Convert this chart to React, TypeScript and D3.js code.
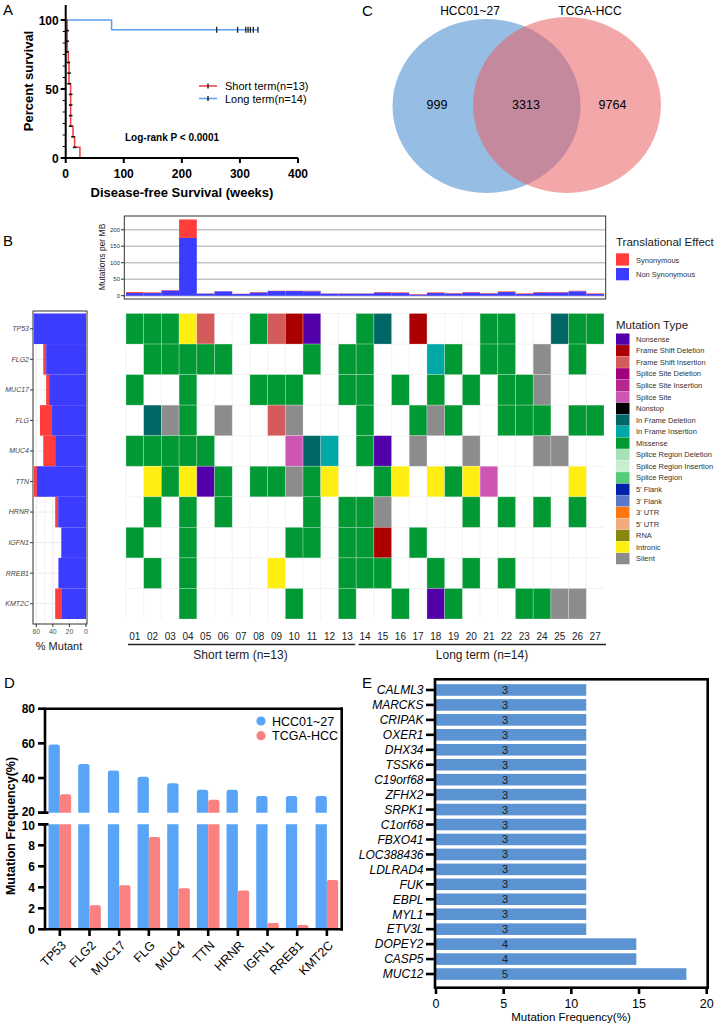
import React from 'react';
import * as d3 from 'd3';

const FONT = '"Liberation Sans", Arial, Helvetica, sans-serif';

// ---------- Panel A : Kaplan-Meier ----------
const shortTimes = [0, 2.5, 4.5, 5.7, 8.5, 12.6, 15.4, 24.5];
const shortSurv = [100, 76.9, 69.2, 53.8, 23.1, 15.4, 7.7, 0];
const longTimes = [0, 79, 332];
const longSurv = [100, 92.9, 92.9];
const longCensor = [260, 296, 310, 314, 318, 323, 331];
const kmXTicks = [0, 100, 200, 300, 400];
const kmYTicks = [0, 50, 100];
const kmLegend = ['Short term(n=13)', 'Long term(n=14)'];

// ---------- Panel C : Venn ----------
const vennLabels = ['HCC01~27', 'TCGA-HCC'];
const vennCounts = [999, 3313, 9764];

// ---------- Panel B : oncoplot ----------
const samples = ['01','02','03','04','05','06','07','08','09','10','11','12','13','14','15','16','17','18','19','20','21','22','23','24','25','26','27'];
const genes = ['TP53','FLG2','MUC17','FLG','MUC4','TTN','HRNR','IGFN1','RREB1','KMT2C'];
const tmbNonSyn = [8,8,15,175,6,13,5,9,14,14,13,6,6,6,9,8,3,8,6,9,6,11,5,9,9,13,5];
const tmbSyn = [3,2,2,56,1,1,1,2,1,1,2,1,1,1,2,2,2,2,2,2,2,2,2,2,2,2,2];
const tmbTicks = [0, 50, 100, 150, 200];
const pctNonSyn = [63, 48.1, 44.5, 41, 37.2, 59.3, 33.6, 29.8, 33.3, 29.8];
const pctSyn = [0, 3.5, 3.6, 14.6, 14.4, 3.5, 3.6, 0, 0, 7.4];
const pctTicks = [60, 40, 20, 0];
// codes: M Missense, Y Intronic, I FS insertion, D FS deletion, N Nonsense,
// d In-frame deletion, i In-frame insertion, S Silent, P Splice site, . none
const mutMatrix = [
  'MMMYI..MIDN..Md.D...MM..dMM',
  '.MMMMM....M.MM...iM.MM.S.M.',
  'M..M...MMM..MM.M.M.M.MMS...',
  '.dSM.S..IS...M..MSM..MMM.MM',
  'MMMMM....Pdi.MN.S..S...SS..',
  '.YMYNM.MMSMY..MY.YMYP....Y.',
  '.M.M.M....M.MMS....M.M.M.M.',
  'M..M.....MM.MMD.M..........',
  '.M.M....Y...MMM..M.M.M.....',
  '...M.....M..M..M.NM...MMSS.',
];
const codeType: Record<string, string> = {
  M: 'Missense', Y: 'Intronic', I: 'Frame Shift Insertion', D: 'Frame Shift Deletion',
  N: 'Nonsense', d: 'In Frame Deletion', i: 'In Frame Insertion', S: 'Silent', P: 'Splice Site',
};
const mutTypes = ['Nonsense','Frame Shift Deletion','Frame Shift Insertion','Splice Site Deletion','Splice Site Insertion','Splice Site','Nonstop','In Frame Deletion','In Frame Insertion','Missense','Splice Region Deletion','Splice Region Insertion','Splice Region',"5' Flank","3' Flank","3' UTR","5' UTR",'RNA','Intronic','Silent'];
const mutColors = ['#5200aa','#aa0000','#d35b5b','#a3007d','#b8268f','#cf55b5','#000000','#006666','#00a8a8','#009933','#a8e0b8','#c8eed2','#55cc77','#0022aa','#5a78cc','#ff7711','#f2aa7a','#888811','#ffee11','#8c8c8c'];
const transTypes = ['Synonymous', 'Non Synonymous'];
const groupNames = ['Short term (n=13)', 'Long term (n=14)'];
const groupSizes = [13, 14];

// ---------- Panel D ----------
const dGenes = ['TP53','FLG2','MUC17','FLG','MUC4','TTN','HRNR','IGFN1','RREB1','KMT2C'];
const dHCC = [59.3, 48.1, 44.4, 40.7, 37.0, 33.3, 33.3, 29.6, 29.6, 29.6];
const dTCGA = [30.7, 2.3, 4.2, 8.8, 3.9, 27.5, 3.7, 0.6, 0.4, 4.7];
const dSeries = ['HCC01~27', 'TCGA-HCC'];
const dUpperTicks = [20, 40, 60, 80];
const dLowerTicks = [0, 2, 4, 6, 8, 10];

// ---------- Panel E ----------
const eGenes = ['CALML3','MARCKS','CRIPAK','OXER1','DHX34','TSSK6','C19orf68','ZFHX2','SRPK1','C1orf68','FBXO41','LOC388436','LDLRAD4','FUK','EBPL','MYL1','ETV3L','DOPEY2','CASP5','MUC12'];
const eCounts = [3,3,3,3,3,3,3,3,3,3,3,3,3,3,3,3,3,4,4,5];
const eFreq = [11.1,11.1,11.1,11.1,11.1,11.1,11.1,11.1,11.1,11.1,11.1,11.1,11.1,11.1,11.1,11.1,11.1,14.8,14.8,18.5];
const eTicks = [0, 5, 10, 15, 20];

const RED = '#ff3d3d';
const BLUE = '#3c3cff';

function PanelA() {
  const x = d3.scaleLinear().domain([0, 400]).range([65.7, 298]);
  const y = d3.scaleLinear().domain([0, 100]).range([158, 20]);
  const line = d3.line<[number, number]>().x(d => x(d[0])).y(d => y(d[1])).curve(d3.curveStepAfter);
  const sPts = shortTimes.map((t, i) => [t, shortSurv[i]] as [number, number]);
  const lPts = longTimes.map((t, i) => [t, longSurv[i]] as [number, number]);
  const stepSize = 100 / 13;
  const marks: { t: number; s: number }[] = [];
  for (let i = 1; i < shortTimes.length; i++) {
    const n = Math.round((shortSurv[i - 1] - shortSurv[i]) / stepSize);
    for (let k = 1; k <= n; k++) {
      const s = shortSurv[i - 1] - k * stepSize;
      if (s > 0.5) marks.push({ t: shortTimes[i], s });
    }
  }
  const minor = d3.range(0, 100.001, 100 / 12);
  const redC = '#f03c3c';
  const blueC = '#5aa0f0';
  return (
    <g>
      <text x={3} y={15} fontSize={15}>A</text>
      {minor.map(v => <line key={'m' + v} x1={x(0) - 3} x2={x(0)} y1={y(v)} y2={y(v)} stroke="#000" strokeWidth={1} />)}
      {kmYTicks.map(v => (
        <g key={'y' + v}>
          <line x1={x(0) - 5} x2={x(0)} y1={y(v)} y2={y(v)} stroke="#000" strokeWidth={2} />
          <text x={x(0) - 7} y={y(v) + 4.5} textAnchor="end" fontSize={12} fontWeight="bold">{v}</text>
        </g>
      ))}
      {kmXTicks.map(v => (
        <g key={'x' + v}>
          <line x1={x(v)} x2={x(v)} y1={158} y2={163} stroke="#000" strokeWidth={2} />
          <text x={x(v)} y={178} textAnchor="middle" fontSize={12} fontWeight="bold">{v}</text>
        </g>
      ))}
      <path d={line(lPts) || ''} fill="none" stroke={blueC} strokeWidth={1.5} />
      <path d={line(sPts) || ''} fill="none" stroke={redC} strokeWidth={1.5} />
      {marks.map((m, i) => <line key={'k' + i} x1={x(m.t) - 1.8} x2={x(m.t) + 1.8} y1={y(m.s)} y2={y(m.s)} stroke="#111" strokeWidth={1.6} />)}
      {longCensor.map(t => <line key={'c' + t} x1={x(t)} x2={x(t)} y1={y(92.9) - 3} y2={y(92.9) + 3} stroke="#222" strokeWidth={1.3} />)}
      <line x1={x(0)} x2={x(0)} y1={5} y2={158} stroke="#000" strokeWidth={2} />
      <line x1={x(0) - 1} x2={x(400)} y1={158} y2={158} stroke="#000" strokeWidth={2} />
      {kmLegend.map((l, i) => (
        <g key={l}>
          <line x1={199} x2={217} y1={86 + i * 12.5} y2={86 + i * 12.5} stroke={i === 0 ? redC : blueC} strokeWidth={1.5} />
          <line x1={208} x2={208} y1={83.5 + i * 12.5} y2={88.5 + i * 12.5} stroke="#111" strokeWidth={1.3} />
          <text x={225} y={90 + i * 12.5} fontSize={11}>{l}</text>
        </g>
      ))}
      <text x={125} y={140.5} fontSize={10} fontWeight="bold">Log-rank P {'<'} 0.0001</text>
      <text transform="translate(33,81) rotate(-90)" textAnchor="middle" fontSize={13} fontWeight="bold">Percent survival</text>
      <text x={182} y={197} textAnchor="middle" fontSize={13} fontWeight="bold">Disease-free Survival (weeks)</text>
    </g>
  );
}

function PanelC() {
  return (
    <g>
      <text x={362} y={16} fontSize={15}>C</text>
      <ellipse cx={486.5} cy={106} rx={94} ry={87} fill="#96bde4" />
      <ellipse cx={567} cy={105} rx={94} ry={88} fill="#eb5f63" fillOpacity={0.55} />
      <text x={470} y={15} textAnchor="middle" fontSize={12}>{vennLabels[0]}</text>
      <text x={590} y={15} textAnchor="middle" fontSize={12}>{vennLabels[1]}</text>
      <text x={437} y={109} textAnchor="middle" fontSize={12.5}>{vennCounts[0]}</text>
      <text x={526} y={109} textAnchor="middle" fontSize={12.5}>{vennCounts[1]}</text>
      <text x={612.5} y={109} textAnchor="middle" fontSize={12.5}>{vennCounts[2]}</text>
    </g>
  );
}

function PanelB() {
  const xCol = d3.scaleBand().domain(samples).range([126, 604]);
  const yRow = d3.scaleBand().domain(genes).range([313.5, 619]);
  const bw = xCol.bandwidth();
  const bh = yRow.bandwidth();
  const yT = d3.scaleLinear().domain([0, 200]).range([295.7, 229.7]);
  const xP = d3.scaleLinear().domain([0, 60]).range([86, 36.3]);
  const colorOf = (c: string) => mutColors[mutTypes.indexOf(codeType[c])];
  const shortEnd = xCol(samples[groupSizes[0] - 1])! + bw;
  return (
    <g>
      <text x={3} y={246} fontSize={15}>B</text>
      {/* TMB bar chart */}
      <rect x={124.3} y={216} width={481.4} height={83} fill="#fff" />
      {tmbTicks.map(t => <line key={'g' + t} x1={124.3} x2={605.7} y1={yT(t)} y2={yT(t)} stroke="#c4c4c4" strokeWidth={1.6} />)}
      {samples.map((s, i) => (
        <g key={'tmb' + s}>
          <rect x={xCol(s)} y={yT(tmbNonSyn[i] + tmbSyn[i])} width={bw} height={yT(tmbNonSyn[i]) - yT(tmbNonSyn[i] + tmbSyn[i])} fill={RED} />
          <rect x={xCol(s)} y={yT(tmbNonSyn[i])} width={bw} height={yT(0) - yT(tmbNonSyn[i])} fill={BLUE} />
        </g>
      ))}
      <rect x={124.3} y={216} width={481.4} height={83} fill="none" stroke="#333" strokeWidth={1} />
      {tmbTicks.map(t => (
        <g key={'t' + t}>
          <line x1={121} x2={124.3} y1={yT(t)} y2={yT(t)} stroke="#333" strokeWidth={1} />
          <text x={120} y={yT(t) + 2.2} textAnchor="end" fontSize={6} fill="#333">{t}</text>
        </g>
      ))}
      <text transform="translate(104.5,257) rotate(-90)" textAnchor="middle" fontSize={8.5} fill="#222">Mutations per MB</text>

      {/* Translational effect legend */}
      <text x={616} y={246} fontSize={11.5} fill="#222">Translational Effect</text>
      {transTypes.map((t, i) => (
        <g key={t}>
          <rect x={616} y={253.3 + i * 14.7} width={13} height={12.3} fill={i === 0 ? RED : BLUE} />
          <text x={636} y={262.5 + i * 14.7} fontSize={7.5} fill="#333">{t}</text>
        </g>
      ))}

      {/* left % mutant */}
      <rect x={33} y={311} width={54} height={313} fill="#fff" />
      {[0, 10, 20, 30, 40, 50, 60].map(v => <line key={'vg' + v} x1={xP(v)} x2={xP(v)} y1={311} y2={624} stroke="#ebebeb" strokeWidth={v % 20 === 0 ? 1 : 0.6} />)}
      {genes.map(g => <line key={'hg' + g} x1={33} x2={87} y1={yRow(g)! + bh / 2} y2={yRow(g)! + bh / 2} stroke="#ebebeb" strokeWidth={1} />)}
      {genes.map((g, i) => (
        <g key={'pb' + g}>
          <rect x={xP(pctNonSyn[i] + pctSyn[i])} y={yRow(g)} width={xP(pctNonSyn[i]) - xP(pctNonSyn[i] + pctSyn[i])} height={bh} fill={RED} />
          <rect x={xP(pctNonSyn[i])} y={yRow(g)} width={xP(0) - xP(pctNonSyn[i])} height={bh} fill={BLUE} />
        </g>
      ))}
      <rect x={33} y={311} width={54} height={313} fill="none" stroke="#333" strokeWidth={1} />
      {genes.map(g => (
        <g key={'gl' + g}>
          <line x1={30} x2={33} y1={yRow(g)! + bh / 2} y2={yRow(g)! + bh / 2} stroke="#333" strokeWidth={1} />
          <text x={29} y={yRow(g)! + bh / 2 + 2.4} textAnchor="end" fontSize={7} fontStyle="italic" fill="#444">{g}</text>
        </g>
      ))}
      {pctTicks.map(v => (
        <g key={'pt' + v}>
          <line x1={xP(v)} x2={xP(v)} y1={624} y2={627} stroke="#333" strokeWidth={1} />
          <text x={xP(v)} y={634} textAnchor="middle" fontSize={7} fill="#555">{v}</text>
        </g>
      ))}
      <text x={59} y={650} textAnchor="middle" fontSize={11} fill="#222">% Mutant</text>

      {/* heatmap */}
      {samples.map(s => <line key={'cv' + s} x1={xCol(s)} x2={xCol(s)} y1={313.5} y2={619} stroke="#f0f0f0" strokeWidth={0.8} />)}
      {genes.map(g => <line key={'rh' + g} x1={126} x2={604} y1={yRow(g)} y2={yRow(g)} stroke="#f0f0f0" strokeWidth={0.8} />)}
      {genes.map((g, r) => samples.map((s, c) => {
        const code = mutMatrix[r][c];
        if (code === '.') return null;
        return <rect key={g + s} x={xCol(s)} y={yRow(g)} width={bw} height={bh} fill={colorOf(code)} stroke="#ffffff" strokeOpacity={0.35} strokeWidth={0.7} />;
      }))}
      {samples.map(s => (
        <text key={'sl' + s} x={xCol(s)! + bw / 2} y={640} textAnchor="middle" fontSize={10} fill="#222">{s}</text>
      ))}
      <line x1={128} x2={shortEnd - 1} y1={644.5} y2={644.5} stroke="#222" strokeWidth={1.5} />
      <line x1={shortEnd + 2.5} x2={606} y1={644.5} y2={644.5} stroke="#222" strokeWidth={1.5} />
      <text x={240.5} y={659} textAnchor="middle" fontSize={12} fill="#222">{groupNames[0]}</text>
      <text x={482} y={659} textAnchor="middle" fontSize={12} fill="#222">{groupNames[1]}</text>

      {/* mutation type legend */}
      <text x={616} y={329} fontSize={11.5} fill="#222">Mutation Type</text>
      {mutTypes.map((t, i) => (
        <g key={t}>
          <rect x={616} y={333.5 + i * 11.55} width={13.5} height={11.3} fill={mutColors[i]} />
          <text x={636} y={341.8 + i * 11.55} fontSize={7.5} fill="#333">{t}</text>
        </g>
      ))}
    </g>
  );
}

function roundTop(x: number, y: number, w: number, h: number, r: number) {
  const rr = Math.min(r, h, w / 2);
  return `M${x},${y + h}V${y + rr}Q${x},${y} ${x + rr},${y}H${x + w - rr}Q${x + w},${y} ${x + w},${y + rr}V${y + h}Z`;
}

function PanelD() {
  const x = d3.scaleBand().domain(dGenes).range([45, 341.7]);
  const upTop = 708.7, upBot = 812.7, loTop = 824.3, loBot = 929.3;
  const yUp = d3.scaleLinear().domain([20, 80]).range([upBot, upTop]);
  const yLo = d3.scaleLinear().domain([0, 10]).range([loBot, loTop]);
  const colors = ['#58a5f7', '#fb8080'];
  const series = [dHCC, dTCGA];
  const bw = 11.3;
  const sw = 2.6;
  return (
    <g>
      <text x={4} y={688} fontSize={15}>D</text>
      {dGenes.map((g, i) => {
        const c = x(g)! + x.bandwidth() / 2;
        return series.map((ser, s) => {
          const v = ser[i];
          const bx = s === 0 ? c - bw : c;
          const out = [];
          const lv = Math.min(v, 10);
          const ly = yLo(lv);
          out.push(<path key={'l' + s} d={v > 10 ? `M${bx},${loBot}V${loTop}H${bx + bw}V${loBot}Z` : roundTop(bx, ly, bw, loBot - ly, 2)} fill={colors[s]} />);
          if (v > 20) {
            const uy = yUp(v);
            out.push(<path key={'u' + s} d={roundTop(bx, uy, bw, upBot - uy, 2.5)} fill={colors[s]} />);
          }
          return <g key={g + s}>{out}</g>;
        });
      })}
      {/* box */}
      <line x1={45} x2={341.7} y1={upTop} y2={upTop} stroke="#000" strokeWidth={sw} strokeLinecap="square" />
      <line x1={341.7} x2={341.7} y1={upTop} y2={loBot} stroke="#000" strokeWidth={sw} strokeLinecap="square" />
      <line x1={45} x2={341.7} y1={loBot} y2={loBot} stroke="#000" strokeWidth={sw} strokeLinecap="square" />
      <line x1={45} x2={45} y1={upTop} y2={upBot} stroke="#000" strokeWidth={sw} />
      <line x1={45} x2={45} y1={loTop} y2={loBot} stroke="#000" strokeWidth={sw} />
      <line x1={38} x2={48.5} y1={upBot} y2={upBot} stroke="#000" strokeWidth={sw} />
      <line x1={38} x2={48.5} y1={loTop} y2={loTop} stroke="#000" strokeWidth={sw} />
      {dUpperTicks.map(v => (
        <g key={'u' + v}>
          <line x1={38} x2={45} y1={yUp(v)} y2={yUp(v)} stroke="#000" strokeWidth={sw} />
          <text x={35} y={yUp(v) + (v === 20 ? 3.5 : 4.5)} textAnchor="end" fontSize={12} fontWeight="bold">{v}</text>
        </g>
      ))}
      {dLowerTicks.map(v => (
        <g key={'l' + v}>
          <line x1={38} x2={45} y1={yLo(v)} y2={yLo(v)} stroke="#000" strokeWidth={sw} />
          <text x={35} y={yLo(v) + (v === 10 ? 5.5 : 4.5)} textAnchor="end" fontSize={12} fontWeight="bold">{v}</text>
        </g>
      ))}
      {dGenes.map(g => {
        const c = x(g)! + x.bandwidth() / 2;
        return (
          <g key={'x' + g}>
            <line x1={c} x2={c} y1={loBot} y2={936} stroke="#000" strokeWidth={sw} />
            <text transform={`translate(${c + 4},${943}) rotate(-45)`} textAnchor="end" fontSize={12.5} dy="0.35em">{g}</text>
          </g>
        );
      })}
      <text transform="translate(14.5,826) rotate(-90)" textAnchor="middle" fontSize={12.5} fontWeight="bold">Mutation Frequency(%)</text>
      {dSeries.map((s, i) => (
        <g key={s}>
          <circle cx={261} cy={721 + i * 14.7} r={4.6} fill={colors[i]} />
          <text x={272} y={725.5 + i * 14.7} fontSize={12.5}>{s}</text>
        </g>
      ))}
    </g>
  );
}

function PanelE() {
  const x = d3.scaleLinear().domain([0, 20]).range([436, 706.7]);
  const y = d3.scaleBand().domain(eGenes).range([682.5, 981.5]).paddingInner(0.22).paddingOuter(0.11);
  const sw = 2.6;
  const left = 435, right = 707.7, top = 679.3, bottom = 987.7;
  return (
    <g>
      <text x={362} y={688} fontSize={15}>E</text>
      {eGenes.map((g, i) => {
        const cy = y(g)! + y.bandwidth() / 2;
        return (
          <g key={g}>
            <rect x={x(0)} y={cy - 5.8} width={x(eFreq[i]) - x(0)} height={11.6} fill="#5b93d3" />
            <text x={x(5.1)} y={cy + 4} textAnchor="middle" fontSize={11} fill="#222">{eCounts[i]}</text>
            <line x1={426} x2={left} y1={cy} y2={cy} stroke="#000" strokeWidth={sw} />
            <text x={423.5} y={cy + 4.3} textAnchor="end" fontSize={12} fontStyle="italic">{g}</text>
          </g>
        );
      })}
      <rect x={left} y={top} width={right - left} height={bottom - top} fill="none" stroke="#000" strokeWidth={sw} />
      {eTicks.map(v => (
        <g key={'t' + v}>
          <line x1={x(v)} x2={x(v)} y1={bottom} y2={994} stroke="#000" strokeWidth={sw} />
          <text x={x(v)} y={1007.5} textAnchor="middle" fontSize={12.5}>{v}</text>
        </g>
      ))}
      <text x={571} y={1021} textAnchor="middle" fontSize={11.5}>Mutation Frequency(%)</text>
    </g>
  );
}

export default function App() {
  return (
    <div style={{ position: 'absolute', left: 0, top: 0 }}>
      <svg width={720} height={1028} style={{ display: 'block', fontFamily: FONT }}>
        <rect width={720} height={1028} fill="#fff" />
        <PanelA />
        <PanelC />
        <PanelB />
        <PanelD />
        <PanelE />
      </svg>
    </div>
  );
}
